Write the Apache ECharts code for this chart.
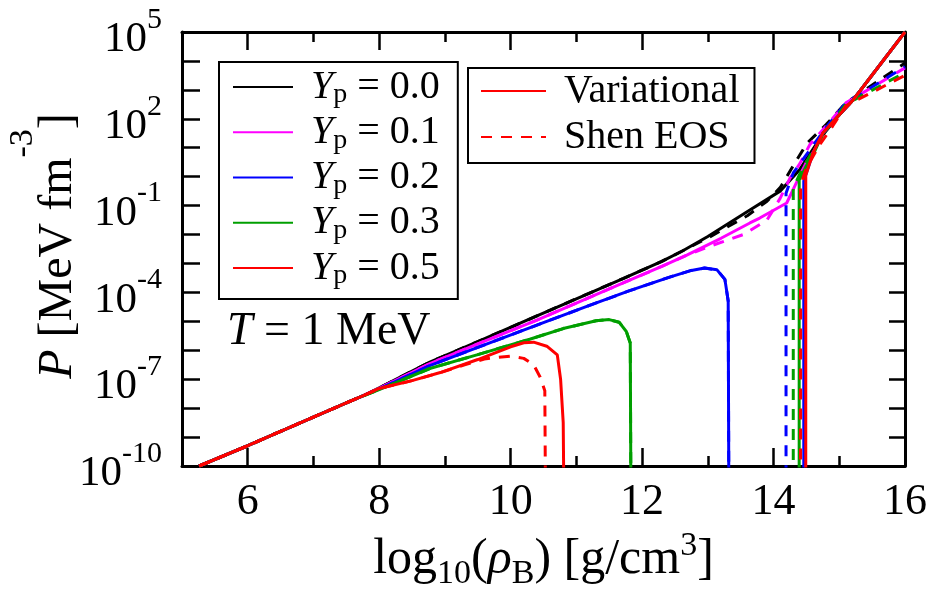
<!DOCTYPE html>
<html>
<head>
<meta charset="utf-8">
<script src="https://cdn.jsdelivr.net/npm/echarts@6/dist/echarts.min.js"></script>
<style>
html,body{margin:0;padding:0;background:#fff}
#chart{width:943px;height:593px}
</style>
</head>
<body>
<div id="chart"></div>
<script>
// x = log10(rho_B) [g/cm^3], y = log10(P) [MeV fm^-3]
// common low density part (all Yp together)
var common = [[5.26,-10],[6.0,-9.3],[6.5,-8.8],[7.0,-8.31],[7.5,-7.82],[7.75,-7.58]];

// Yp = 0.0
var yp00Low = [[8.0,-7.3],[8.77,-6.41],[9.5,-5.7],[10.25,-4.96],[11.0,-4.22],[11.71,-3.52],[12.3,-2.93],[12.62,-2.56]];
var yp00Var = [[13.0,-2.07],[13.64,-1.15],[14.1,-0.5],[14.4,0.25],[14.7,1.3],[14.97,2.06],[15.21,2.65],[16,5]];
var yp00Shen = [[13.0,-2.12],[13.6,-1.35],[13.9,-0.85],[14.1,-0.38],[14.3,0.38],[14.51,1.16],[14.8,1.8],[15.1,2.55],[16,3.93]];

// Yp = 0.1
var yp01Low = [[8.0,-7.32],[8.77,-6.46],[9.5,-5.78],[10.4,-4.955],[11.5,-3.88],[12.3,-3.1],[12.68,-2.71]];
var yp01Var = [[13.2,-2.13],[13.64,-1.6],[13.79,-1.43],[14.2,-0.91],[14.35,-0.2],[14.5,0.5],[14.62,0.9],[14.75,1.5],[14.97,2.06],[15.21,2.65],[16,5]];
var yp01Shen = [[13.0,-2.43],[13.54,-2.0],[13.9,-1.5],[14.1,-0.75],[14.25,-0.05],[14.4,0.45],[14.55,1.1],[14.8,1.75],[15.1,2.55],[16,3.76]];

// Yp = 0.2
var yp02Low = [[8.0,-7.34],[8.77,-6.53],[9.5,-5.9],[10.6,-4.96],[11.2,-4.45],[11.8,-3.95],[12.42,-3.47],[12.75,-3.24],[12.95,-3.16],[13.14,-3.22],[13.26,-3.55],[13.31,-4.3],[13.32,-11]];
var yp02Var = [[14.46,-11],[14.46,-0.15],[14.6,0.82],[14.75,1.5],[14.97,2.06],[15.21,2.65],[16,5]];
var yp02Shen = [[14.19,-11],[14.19,-0.57],[14.3,0.13],[14.55,0.92],[14.8,1.7],[15.1,2.55],[16,3.8]];

// Yp = 0.3
var yp03Low = [[8.0,-7.36],[8.77,-6.63],[9.5,-6.15],[10.29,-5.62],[10.8,-5.25],[11.3,-4.98],[11.5,-4.94],[11.65,-5.03],[11.76,-5.35],[11.82,-5.75],[11.83,-11]];
var yp03Var = [[14.39,-11],[14.39,-0.12],[14.5,0.38],[14.62,0.85],[14.75,1.5],[14.97,2.06],[15.21,2.65],[16,5]];
var yp03Shen = [[14.3,-11],[14.3,-0.4],[14.4,0.1],[14.6,0.9],[14.85,1.75],[15.1,2.5],[16,3.6]];

// Yp = 0.5
var yp05Low = [[8.0,-7.32],[8.5,-7.05],[8.93,-6.77]];
var yp05Var = [[9.5,-6.32],[10.0,-5.88],[10.2,-5.74],[10.35,-5.72],[10.55,-5.86],[10.71,-6.16],[10.76,-7.0],[10.8,-8.5],[10.81,-11],
               [14.49,-11],[14.49,0.05],[14.6,0.82],[14.75,1.51],[14.97,2.06],[15.21,2.65],[16,5]];
var yp05Shen = [[9.3,-6.5],[9.6,-6.3],[10.0,-6.2],[10.2,-6.28],[10.35,-6.5],[10.45,-6.93],[10.52,-7.4],[10.53,-11],
                [14.41,-11],[14.41,-0.3],[14.5,0.3],[14.7,1.1],[14.9,1.75],[15.1,2.45],[16,3.5]];

var ypLabels = ['0.0','0.1','0.2','0.3','0.5'];
var colors = ['#000000','#ff00ff','#0000ff','#009f00','#ff0000'];
var xTicks = [6,8,10,12,14,16];

var FONT = 'Liberation Serif';
var chart = echarts.init(document.getElementById('chart'));

function curve(name, color, data, dashed){
	return {
		name: name,
		type: 'line',
		data: data,
		symbol: 'none',
		clip: true,
		color: color,
		lineStyle: {color: color, width: 3, type: dashed ? [11,9] : 'solid'},
		z: 3
	};
}

var lows = [yp00Low, yp01Low, yp02Low, yp03Low, yp05Low];
var vars = [yp00Var, yp01Var, yp02Var, yp03Var, yp05Var];
var shens = [yp00Shen, yp01Shen, yp02Shen, yp03Shen, yp05Shen];
var series = [];
for(var i=0;i<5;i++){
	var name = 'Yp = ' + ypLabels[i];
	series.push(curve(name, colors[i], common.concat(lows[i], vars[i]), false));
	series.push(curve(name + ' Shen', colors[i], common.concat(lows[i], shens[i]), true));
}
// dummy series for the model legend
series.push(curve('Variational', '#ff0000', [], false));
series.push(curve('Shen EOS', '#ff0000', [], true));

var axisLineStyle = {color:'#000', width:3};
var tickStyle = {width:2.5, color:'#000'};
var noSymbol = {color:'rgba(0,0,0,0)', borderWidth:0, opacity:0};

// short ticks at every integer (no line, no labels)
function minorX(pos){
	return {
		type:'value', min:5, max:16, interval:1, position:pos,
		axisLine:{show:false, onZero:false},
		axisTick:{inside:true, length:10, lineStyle:tickStyle},
		splitLine:{show:false},
		axisLabel:{show:false}
	};
}

var option = {
	animation: false,
	backgroundColor: '#fff',
	grid: {left:182, top:32, width:723, height:434, containLabel:false, outerBoundsMode:'none'},
	xAxis: [{
		type:'value', min:5, max:16, interval:1, position:'bottom',
		axisLine:{onZero:false, lineStyle:axisLineStyle},
		axisTick:{inside:true, length:18, lineStyle:tickStyle, customValues:xTicks},
		splitLine:{show:false},
		axisLabel:{
			margin:14, color:'#000', fontFamily:FONT, fontSize:44,
			customValues:xTicks
		},
		name:'{t|log}{sub|10}{t|(}{i|ρ}{sub|B}{t|) [g/cm}{sup|3}{t|]}',
		nameLocation:'middle', nameGap:57,
		nameTextStyle:{
			color:'#000',
			rich:{
				t:{fontFamily:FONT, fontSize:50, lineHeight:62, color:'#000'},
				i:{fontFamily:FONT, fontSize:50, fontStyle:'italic', lineHeight:62, color:'#000'},
				sub:{fontFamily:FONT, fontSize:34, lineHeight:34, verticalAlign:'bottom', color:'#000'},
				sup:{fontFamily:FONT, fontSize:34, lineHeight:16, verticalAlign:'top', color:'#000'}
			}
		}
	},{
		type:'value', min:5, max:16, interval:1, position:'top',
		axisLine:{onZero:false, lineStyle:axisLineStyle},
		axisTick:{inside:true, length:18, lineStyle:tickStyle, customValues:xTicks},
		splitLine:{show:false},
		axisLabel:{show:false}
	}, minorX('bottom'), minorX('top')],
	yAxis: [{
		type:'value', min:-10, max:5, interval:1, position:'left',
		axisLine:{onZero:false, lineStyle:axisLineStyle},
		axisTick:{inside:true, length:18, lineStyle:tickStyle},
		splitLine:{show:false},
		axisLabel:{
			margin:20, color:'#000', padding:[16,0,0,0],
			formatter:function(v){
				if ((v + 10) % 3 !== 0) return '';
				return '{b|10}{s|' + v + '}';
			},
			rich:{
				b:{fontFamily:FONT, fontSize:43, lineHeight:70, color:'#000'},
				s:{fontFamily:FONT, fontSize:30, lineHeight:29, verticalAlign:'top', color:'#000'}
			}
		}
	},{
		type:'value', min:-10, max:5, interval:1, position:'right',
		axisLine:{onZero:false, lineStyle:axisLineStyle},
		axisTick:{inside:true, length:16, lineStyle:tickStyle},
		splitLine:{show:false},
		axisLabel:{show:false}
	}],
	legend: [{
		orient:'vertical', left:219, top:62,
		padding:[5,18,9,13], itemGap:3.25,
		itemWidth:60, itemHeight:14,
		itemStyle:noSymbol,
		borderColor:'#000', borderWidth:2, borderRadius:0,
		selectedMode:false,
		data: ypLabels.map(function(l){ return 'Yp = ' + l; }),
		formatter:function(name){
			return '{y|Y}{p|p}{t| = ' + name.slice(5) + '}';
		},
		textStyle:{
			color:'#000',
			rich:{
				y:{fontFamily:FONT, fontSize:40, fontStyle:'italic', lineHeight:44, padding:[0,0,0,13], color:'#000'},
				p:{fontFamily:FONT, fontSize:28, lineHeight:26, verticalAlign:'bottom', color:'#000'},
				t:{fontFamily:FONT, fontSize:40, lineHeight:44, color:'#000'}
			}
		}
	},{
		orient:'vertical', left:468, top:68,
		padding:[3,15,6,12], itemGap:6,
		itemWidth:65, itemHeight:14,
		itemStyle:noSymbol,
		borderColor:'#000', borderWidth:2, borderRadius:0,
		selectedMode:false,
		data:['Variational','Shen EOS'],
		formatter:function(name){ return '{t|' + name + '}'; },
		textStyle:{
			color:'#000',
			rich:{
				t:{fontFamily:FONT, fontSize:40, lineHeight:44, padding:[0,0,0,13], color:'#000'}
			}
		}
	}],
	graphic: [{
		type:'text', left:227, top:309, z:10,
		style:{
			text:'{i|T}{t| = 1 MeV}',
			rich:{
				i:{fontFamily:FONT, fontSize:46, fontStyle:'italic', lineHeight:50, fill:'#000'},
				t:{fontFamily:FONT, fontSize:46, lineHeight:50, fill:'#000'}
			}
		}
	},{
		// y axis title, rotated
		type:'text', x:58, y:246, rotation:Math.PI/2, z:10,
		style:{
			text:'{i|P}{t| [MeV fm}{s|-3}{t|]}',
			align:'center', verticalAlign:'middle',
			rich:{
				t:{fontFamily:FONT, fontSize:48, lineHeight:104, fill:'#000'},
				i:{fontFamily:FONT, fontSize:48, fontStyle:'italic', lineHeight:104, fill:'#000'},
				s:{fontFamily:FONT, fontSize:34, lineHeight:36, verticalAlign:'top', fill:'#000'}
			}
		}
	}],
	series: series
};
chart.setOption(option);
</script>
</body>
</html>
